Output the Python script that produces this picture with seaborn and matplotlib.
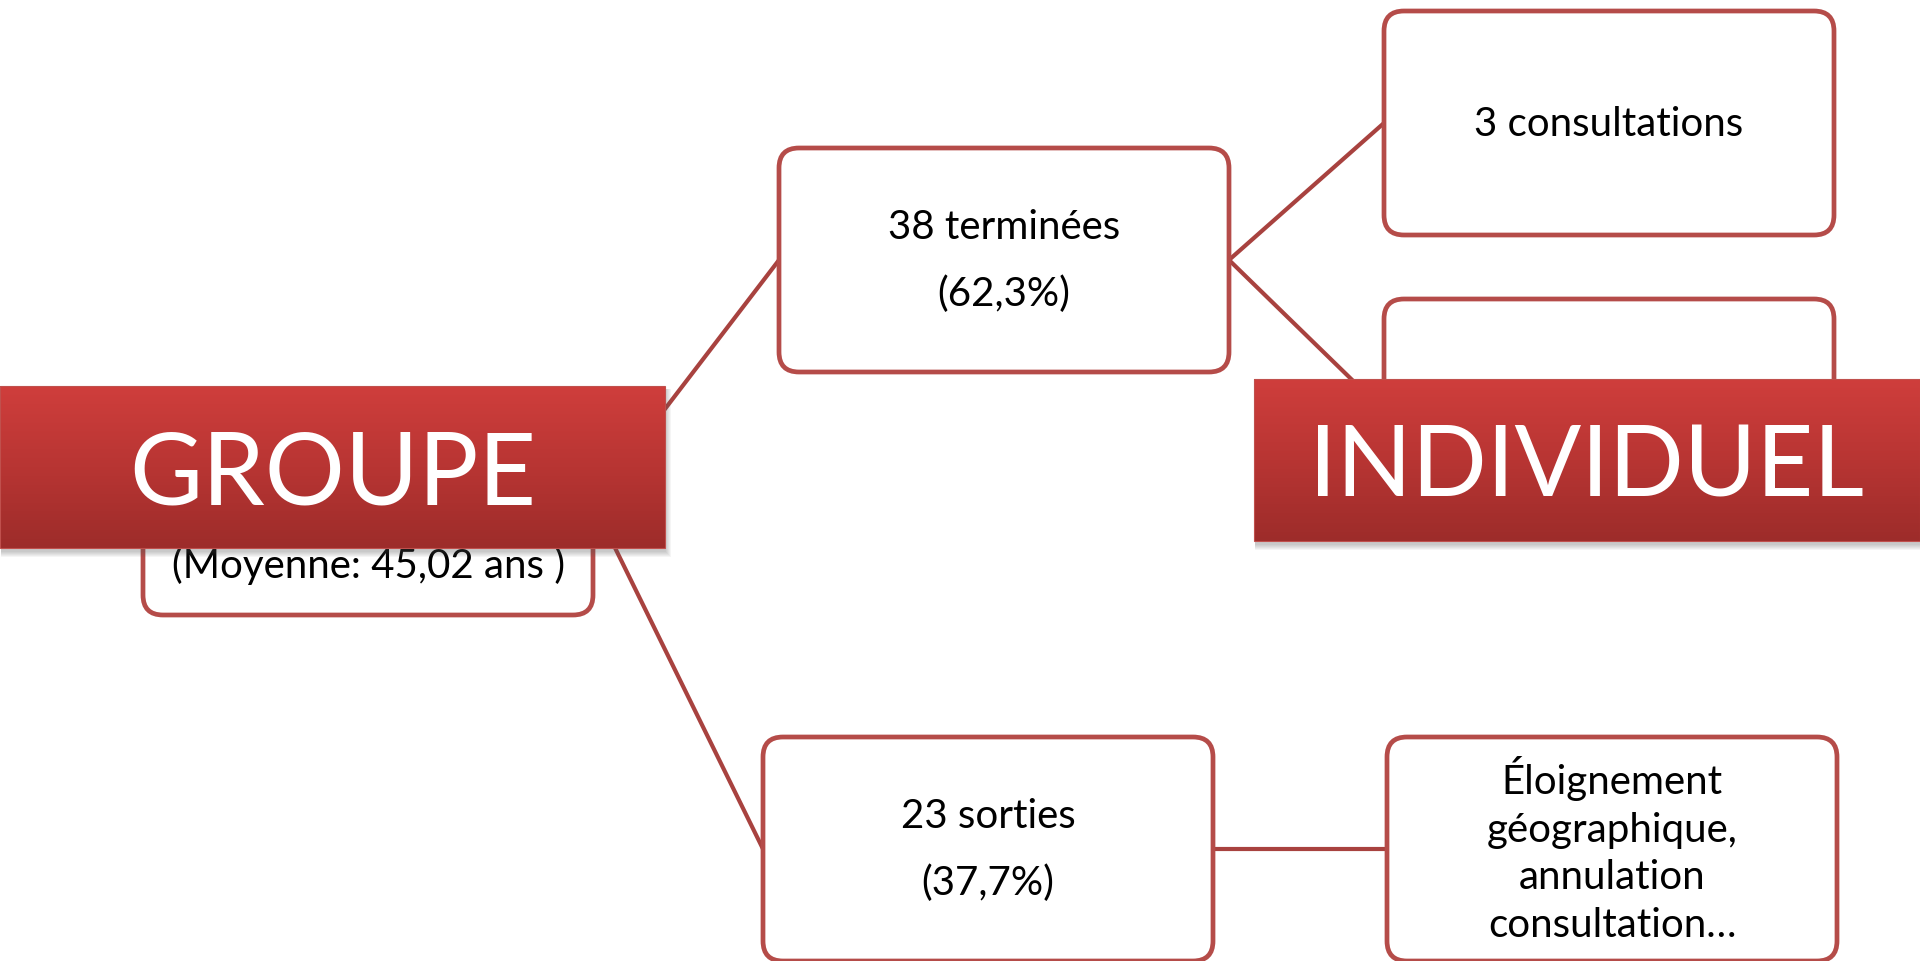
import numpy as np
import pandas as pd
import matplotlib
matplotlib.use("Agg")
import matplotlib.pyplot as plt
from matplotlib.patches import FancyBboxPatch, Rectangle
from matplotlib.colors import LinearSegmentedColormap
import seaborn as sns

sns.set_theme(style="white")
plt.rcParams['font.family'] = ['Lato', 'DejaVu Sans']

# ── Data ──────────────────────────────────────────────────────────────────────
NODE_LABELS = [
    "(Moyenne: 45,02 ans )",
    "38 terminées\n(62,3%)",
    "3 consultations",
    "",
    "23 sorties\n(37,7%)",
    "Éloignement\ngéographique,\nannulation\nconsultation…",
]
EDGES = [(0, 1), (0, 4), (1, 2), (1, 3), (4, 5)]
BANNER_LABELS = ["GROUPE", "INDIVIDUEL"]

# ── Layout (pixel space, y downward) ──────────────────────────────────────────
NODE_X0 = [143, 779, 1384, 1384, 763, 1387]
NODE_Y0 = [392, 149, 12, 300, 738, 738]
NODE_W, NODE_H = 450, 224
TEXT_DY = [62, 0, 0, 0, 0, 0]
LINE_SPACING = [1.2, 1.96, 1.2, 1.2, 1.96, 1.36]

BANNER_X0 = [0, 1254]
BANNER_Y0 = [387, 380]
BANNER_W = [665, 666]
BANNER_H = 162
BANNER_FS = [72, 71]

EDGE_COL = '#A8423F'
BOX_COL = '#B54C49'
banner_cmap = LinearSegmentedColormap.from_list(
    'banner', ['#CF3E3C', '#B83533', '#9D2C2A'])

fig = plt.figure(figsize=(19.2, 9.62), dpi=100)
ax = fig.add_axes([0, 0, 1, 1])

# edges
rows = []
for k, (a, b) in enumerate(EDGES):
    rows.append({'edge': k, 'x': NODE_X0[a] + NODE_W, 'y': NODE_Y0[a] + NODE_H / 2})
    rows.append({'edge': k, 'x': NODE_X0[b], 'y': NODE_Y0[b] + NODE_H / 2})
edges_df = pd.DataFrame(rows)
sns.lineplot(data=edges_df, x='x', y='y', units='edge', estimator=None,
             sort=False, color=EDGE_COL, linewidth=3.0, ax=ax, zorder=1)

# boxes
for i, label in enumerate(NODE_LABELS):
    box = FancyBboxPatch((NODE_X0[i], NODE_Y0[i]), NODE_W, NODE_H,
                         boxstyle="round,pad=0,rounding_size=20",
                         facecolor='white', edgecolor=BOX_COL,
                         linewidth=3.4, zorder=2)
    ax.add_patch(box)
    if label:
        ax.text(NODE_X0[i] + NODE_W / 2, NODE_Y0[i] + NODE_H / 2 + TEXT_DY[i],
                label, ha='center', va='center', fontsize=29, color='black',
                linespacing=LINE_SPACING[i], zorder=3)

# banners
grad = np.linspace(0, 1, 200).reshape(-1, 1)
for i, label in enumerate(BANNER_LABELS):
    x0, y0, w = BANNER_X0[i], BANNER_Y0[i], BANNER_W[i]
    for s in range(6, 0, -1):
        ax.add_patch(Rectangle((x0 + 1, y0 + 3), w + s - 1, BANNER_H + s,
                               facecolor='#555555', alpha=0.06,
                               edgecolor='none', zorder=4))
    ax.imshow(grad, extent=(x0, x0 + w, y0 + BANNER_H, y0), cmap=banner_cmap,
              aspect='auto', zorder=5, interpolation='bilinear')
    ax.add_patch(Rectangle((x0, y0), w, BANNER_H, facecolor='none',
                           edgecolor='#C0504D', linewidth=0.8, zorder=6))
    ax.text(x0 + w / 2, y0 + BANNER_H / 2 + 8, label, ha='center',
            va='center', fontsize=BANNER_FS[i], color='white', zorder=7)

ax.set_xlim(0, 1920)
ax.set_ylim(962, 0)
ax.axis('off')

fig.savefig('out.png', dpi=100, facecolor='white')
